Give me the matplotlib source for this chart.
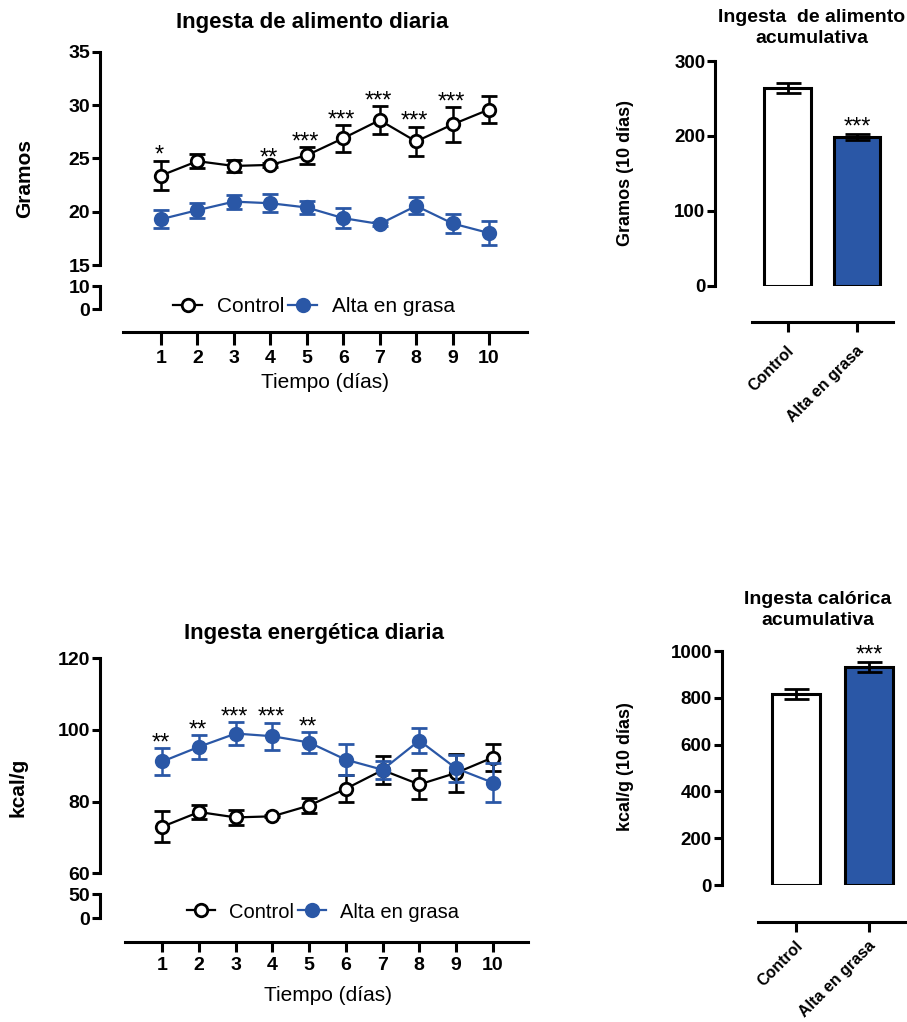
import numpy as np
import matplotlib.pyplot as plt
from matplotlib.lines import Line2D
from matplotlib.transforms import ScaledTranslation

plt.rcParams['font.family'] = ['Liberation Sans', 'DejaVu Sans']

W, H = 907, 1022
BLUE = '#2a57a6'

# datos
days = np.arange(1, 11)

food_ctrl = [23.4, 24.75, 24.3, 24.4, 25.3, 26.9, 28.6, 26.6, 28.2, 29.6]
food_ctrl_err = [1.4, 0.65, 0.6, 0.2, 0.8, 1.25, 1.3, 1.4, 1.65, 1.25]
food_hfd = [19.3, 20.15, 20.95, 20.8, 20.4, 19.4, 18.85, 20.55, 18.9, 18.0]
food_hfd_err = [0.85, 0.7, 0.65, 0.85, 0.65, 0.95, 0.2, 0.8, 0.85, 1.15]
food_stars = ['*', '', '', '**', '***', '***', '***', '***', '***', '']

energy_ctrl = [73.0, 77.1, 75.6, 75.9, 78.9, 83.6, 88.8, 84.8, 88.0, 92.3]
energy_ctrl_err = [4.3, 2.0, 2.1, 0.3, 2.2, 3.8, 4.0, 4.15, 5.2, 3.8]
energy_hfd = [91.2, 95.3, 99.0, 98.25, 96.5, 91.7, 88.9, 97.05, 89.3, 85.3]
energy_hfd_err = [3.8, 3.3, 3.2, 3.8, 3.0, 4.3, 2.45, 3.6, 3.8, 5.4]
energy_stars = ['**', '**', '***', '***', '**', '', '', '', '', '']

groups = ['Control', 'Alta en grasa']
food_total = [264, 199]
food_total_err = [7, 4]
energy_total = [816, 932]
energy_total_err = [22, 21]
total_stars = ['', '***']

fig = plt.figure(figsize=(W / 100, H / 100), dpi=100, facecolor='white')


def px_axes(l, t, r, b):
    # axes placed by pixel edges (left, top, right, bottom)
    ax = fig.add_axes([l / W, 1 - b / H, (r - l) / W, (b - t) / H])
    ax.patch.set_visible(False)
    for s in ['top', 'right', 'bottom', 'left']:
        ax.spines[s].set_visible(False)
    return ax


def y_only(ax, lim, ticks, size=14):
    ax.set_ylim(lim)
    ax.set_yticks(ticks)
    ax.set_yticklabels([str(t) for t in ticks], fontweight='bold')
    ax.spines['left'].set_visible(True)
    ax.spines['left'].set_linewidth(2.2)
    ax.tick_params(axis='y', length=6, width=2.2, pad=1, labelsize=size)
    ax.set_xticks([])


def line_chart(yx, main_px, main_lim, main_ticks, low_px, low_lim, low_ticks,
               d1, d10, xaxis_px, ctrl, ctrl_err, hfd, hfd_err, stars, star_series,
               title, title_xy, ylabel, ylabel_xy, xlabel_xy, leg_xy, leg_size, tick_len):
    step = (d10 - d1) / 9.0
    right = xaxis_px[2]
    xlim = (1 + (yx - d1) / step, 1 + (right - d1) / step)

    ax = px_axes(yx, main_px[0], right, main_px[1])
    y_only(ax, main_lim, main_ticks)
    ax.set_xlim(xlim)
    ax.errorbar(days, ctrl, yerr=ctrl_err, fmt='-o', color='black', mfc='white',
                mec='black', ms=9, mew=2, lw=1.6, elinewidth=1.8, capsize=5.5,
                capthick=1.8, clip_on=False, zorder=3)
    ax.errorbar(days, hfd, yerr=hfd_err, fmt='-o', color=BLUE, mfc=BLUE,
                mec=BLUE, ms=9, mew=2, lw=1.6, elinewidth=1.8, capsize=5.5,
                capthick=1.8, clip_on=False, zorder=4)
    if star_series == 'ctrl':
        sv, se = ctrl, ctrl_err
    else:
        sv, se = hfd, hfd_err
    for i, s in enumerate(stars):
        if s:
            ax.annotate(s, xy=(days[i], sv[i] + se[i]), xytext=(-1, -1),
                        textcoords='offset points', ha='center', va='baseline',
                        fontsize=17)

    low = px_axes(yx, low_px[0], right, low_px[1])
    y_only(low, low_lim, low_ticks)
    low.set_xlim(xlim)

    xa = px_axes(xaxis_px[0], xaxis_px[1] - 2, xaxis_px[2], xaxis_px[1])
    xa.set_xlim(1 + (xaxis_px[0] - d1) / step, 1 + (xaxis_px[2] - d1) / step)
    xa.spines['bottom'].set_visible(True)
    xa.spines['bottom'].set_linewidth(2.2)
    xa.set_yticks([])
    xa.set_xticks(days)
    xa.set_xticklabels([str(d) for d in days], fontweight='bold')
    xa.tick_params(axis='x', length=tick_len, width=2.2, pad=4, labelsize=14)

    fig.text(title_xy[0] / W, 1 - title_xy[1] / H, title, ha='center', va='center',
             fontsize=16, fontweight='bold')
    fig.text(ylabel_xy[0] / W, 1 - ylabel_xy[1] / H, ylabel, ha='center', va='center',
             rotation=90, fontsize=15, fontweight='bold')
    fig.text(xlabel_xy[0] / W, 1 - xlabel_xy[1] / H, 'Tiempo (días)', ha='center',
             va='center', fontsize=15)

    handles = [Line2D([], [], color='black', marker='o', mfc='white', mec='black',
                      ms=9, mew=2, lw=1.6),
               Line2D([], [], color=BLUE, marker='o', mfc=BLUE, mec=BLUE,
                      ms=9, mew=2, lw=1.6)]
    fig.legend(handles, ['Control', 'Alta en grasa'], ncol=2, loc='center',
               bbox_to_anchor=(leg_xy[0] / W, 1 - leg_xy[1] / H), frameon=False,
               fontsize=leg_size, handlelength=1.4, handletextpad=0.7,
               columnspacing=0.2, borderpad=0)


def bar_chart(yx, top_px, bot_px, lim, ticks, c0, c1, xaxis_px, vals, errs, stars,
              title, title_xy, ylabel, ylabel_xy, lab_pad):
    step = c1 - c0
    right = xaxis_px[2]
    ax = px_axes(yx, top_px, right, bot_px)
    y_only(ax, lim, ticks, size=13.5)
    ax.set_xlim((yx - c0) / step, (right - c0) / step)
    x = np.arange(len(vals))
    ax.bar(x, vals, width=0.67, color=['white', BLUE], edgecolor='black',
           linewidth=2.2, zorder=2)
    ax.errorbar(x, vals, yerr=errs, fmt='none', ecolor='black', elinewidth=2,
                capsize=9, capthick=2, zorder=3, clip_on=False)
    for i, s in enumerate(stars):
        if s:
            ax.annotate(s, xy=(x[i], vals[i] + errs[i]), xytext=(0, 0),
                        textcoords='offset points', ha='center', va='baseline',
                        fontsize=17)

    xa = px_axes(xaxis_px[0], xaxis_px[1] - 2, xaxis_px[2], xaxis_px[1])
    xa.set_xlim((xaxis_px[0] - c0) / step, (xaxis_px[2] - c0) / step)
    xa.spines['bottom'].set_visible(True)
    xa.spines['bottom'].set_linewidth(2.2)
    xa.set_yticks([])
    xa.set_xticks(x)
    xa.set_xticklabels(groups, rotation=45, ha='right', va='center',
                       rotation_mode='anchor', fontweight='bold')
    xa.tick_params(axis='x', length=7, width=2.2, pad=lab_pad, labelsize=11.5)
    shift = ScaledTranslation(4 / 100, 0, fig.dpi_scale_trans)
    for lab in xa.get_xticklabels():
        lab.set_transform(lab.get_transform() + shift)

    fig.text(title_xy[0] / W, 1 - title_xy[1] / H, title, ha='center', va='center',
             fontsize=14, fontweight='bold', linespacing=1.25)
    fig.text(ylabel_xy[0] / W, 1 - ylabel_xy[1] / H, ylabel, ha='center', va='center',
             rotation=90, fontsize=13, fontweight='bold')


line_chart(100, (52, 265), (15, 35), [15, 20, 25, 30, 35], (286, 309), (0, 10), [0, 10],
           161, 489, (123, 332, 527), food_ctrl, food_ctrl_err, food_hfd, food_hfd_err,
           food_stars, 'ctrl', 'Ingesta de alimento diaria', (312, 22), 'Gramos', (25, 178),
           (325, 383), (314, 307), 15, 9)

line_chart(100, (658.3, 873.3), (60, 120), [60, 80, 100, 120], (894, 918.3), (0, 50), [0, 50],
           162.3, 492.7, (125, 941.7, 528), energy_ctrl, energy_ctrl_err, energy_hfd,
           energy_hfd_err, energy_stars, 'hfd', 'Ingesta energética diaria', (314, 633),
           'kcal/g', (18, 787), (328, 995), (323, 912), 14.5, 7)

bar_chart(715, 61, 285.7, (0, 300), [0, 100, 200, 300], 787.5, 857, (751.7, 321.7, 893.3),
          food_total, food_total_err, total_stars, 'Ingesta  de alimento\nacumulativa',
          (812, 28), 'Gramos (10 días)', (626, 173), 12)

bar_chart(721.7, 651, 885, (0, 1000), [0, 200, 400, 600, 800, 1000], 796, 869,
          (758, 922.3, 906.7), energy_total, energy_total_err, total_stars,
          'Ingesta calórica\nacumulativa', (818, 610), 'kcal/g (10 días)', (625, 767), 8)

fig.savefig('out.png', dpi=100, facecolor='white')
